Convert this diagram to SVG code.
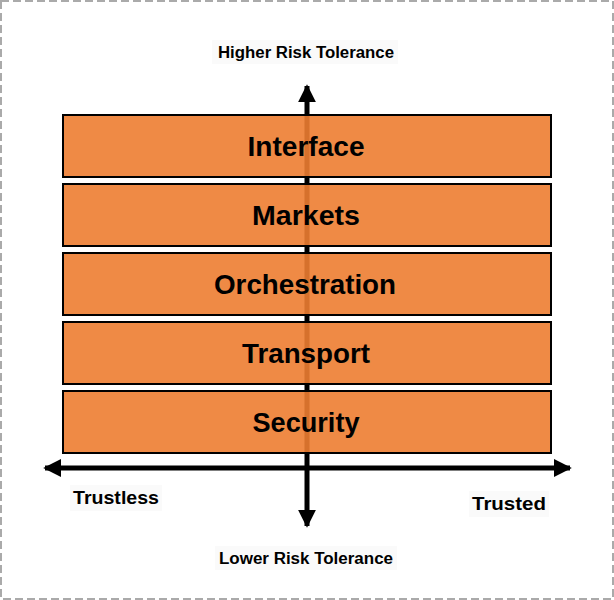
<svg xmlns="http://www.w3.org/2000/svg" width="614" height="600" viewBox="0 0 614 600">
<style>
.layer{fill:#ED7D31;fill-opacity:0.9;stroke:#000;stroke-width:2}
.lbl{font-family:"Liberation Sans",Arial,sans-serif;font-weight:bold;fill:#000;text-anchor:middle}
.big{font-size:27px}
.ax{font-size:16px}
.bg{fill:#fafafa}
.axis{stroke:#000;stroke-width:5;fill:none}
</style>
<defs>
<marker id="ah" viewBox="0 0 10 10" refX="9" refY="5" markerWidth="3.6" markerHeight="3.6" orient="auto" markerUnits="strokeWidth">
<path d="M0,0 L10,5 L0,10 z" fill="#000"/>
</marker>
</defs>
<rect x="1" y="1" width="612" height="598" fill="#fff" stroke="#aaa" stroke-width="2" stroke-dasharray="8,4"/>
<g id="labels-axis">
<rect class="bg" x="212" y="40" width="186" height="24"/>
<text class="lbl ax" x="306" y="58" textLength="176" lengthAdjust="spacingAndGlyphs">Higher Risk Tolerance</text>
<rect class="bg" x="215" y="546" width="182" height="24"/>
<text class="lbl ax" x="306" y="564" textLength="174" lengthAdjust="spacingAndGlyphs">Lower Risk Tolerance</text>
<rect class="bg" x="70" y="485" width="92" height="26"/>
<text class="lbl" style="font-size:19px" x="116" y="504" textLength="86" lengthAdjust="spacingAndGlyphs">Trustless</text>
<rect class="bg" x="469" y="491" width="80" height="26"/>
<text class="lbl" style="font-size:19px" x="509" y="510" textLength="74" lengthAdjust="spacingAndGlyphs">Trusted</text>
</g>
<g id="connectors">
<line class="axis" x1="307" y1="300" x2="307" y2="86" marker-end="url(#ah)"/>
<line class="axis" x1="307" y1="300" x2="307" y2="526" marker-end="url(#ah)"/>
<line class="axis" x1="307" y1="468" x2="45" y2="468" marker-end="url(#ah)"/>
<line class="axis" x1="307" y1="468" x2="570" y2="468" marker-end="url(#ah)"/>
</g>
<g id="interface">
<rect class="layer" x="63" y="115" width="488" height="62"/>
<text class="lbl big" x="306" y="156" textLength="117" lengthAdjust="spacingAndGlyphs">Interface</text>
</g>
<g id="markets">
<rect class="layer" x="63" y="184" width="488" height="62"/>
<text class="lbl big" x="306" y="225" textLength="108" lengthAdjust="spacingAndGlyphs">Markets</text>
</g>
<g id="orchestration">
<rect class="layer" x="63" y="253" width="488" height="62"/>
<text class="lbl big" x="305" y="294" textLength="182" lengthAdjust="spacingAndGlyphs">Orchestration</text>
</g>
<g id="transport">
<rect class="layer" x="63" y="322" width="488" height="62"/>
<text class="lbl big" x="306" y="363" textLength="128" lengthAdjust="spacingAndGlyphs">Transport</text>
</g>
<g id="security">
<rect class="layer" x="63" y="391" width="488" height="62"/>
<text class="lbl big" x="306" y="432" textLength="107" lengthAdjust="spacingAndGlyphs">Security</text>
</g>
</svg>
